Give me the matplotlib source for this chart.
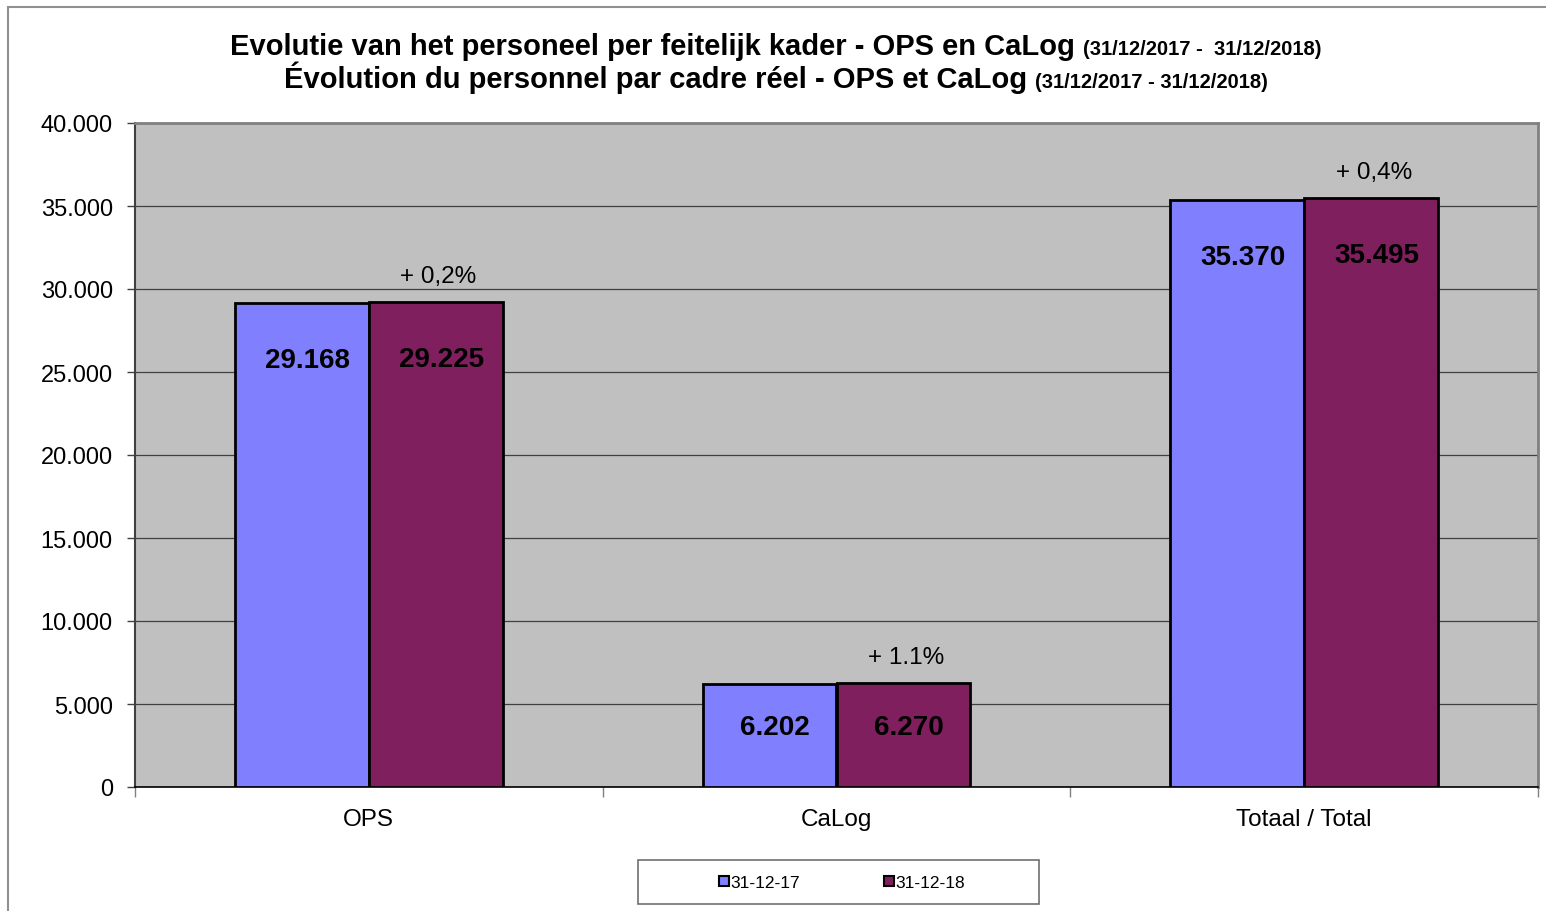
import matplotlib
matplotlib.use("Agg")
from matplotlib import pyplot as plt
from matplotlib.patches import Rectangle
from matplotlib.lines import Line2D
from matplotlib.ticker import FuncFormatter, FixedLocator
import numpy as np

plt.rcParams['font.family'] = ['Liberation Sans', 'DejaVu Sans']

# data
categories = ["OPS", "CaLog", "Totaal / Total"]
series_names = ["31-12-17", "31-12-18"]
vals_2017 = [29168, 6202, 35370]
vals_2018 = [29225, 6270, 35495]
pct_labels = ["+ 0,2%", "+ 1.1%", "+ 0,4%"]

col_2017 = "#8080FF"
col_2018 = "#801F5E"

def dotted(v):
    return f"{int(v):,}".replace(",", ".")

fig = plt.figure(figsize=(15.46, 9.12), dpi=100)
W, H = 1546, 912
ax = fig.add_axes([135 / W, 1 - 788 / H, (1538 - 135) / W, (788 - 124) / H])
ax.set_facecolor("#C0C0C0")

x = np.arange(len(categories))
bw = 0.286
b1 = ax.bar(x - bw / 2, vals_2017, bw, color=col_2017, edgecolor="black", linewidth=2, zorder=3)
b2 = ax.bar(x + bw / 2, vals_2018, bw, color=col_2018, edgecolor="black", linewidth=2, zorder=3)

ax.set_xlim(-0.5, 2.5)
ax.set_ylim(0, 40000)
ax.set_yticks(np.arange(0, 40001, 5000))
ax.yaxis.set_major_formatter(FuncFormatter(lambda v, p: dotted(v)))
ax.grid(axis="y", color="#404040", linewidth=0.9, zorder=1)
ax.set_axisbelow(True)
ax.tick_params(axis="y", labelsize=17, length=6, width=1, color="#404040", pad=10)

ax.set_xticks(x)
ax.set_xticklabels(categories, fontsize=17.5)
ax.tick_params(axis="x", length=0, pad=15)
ax.xaxis.set_minor_locator(FixedLocator([-0.5, 0.5, 1.5, 2.5]))
ax.tick_params(axis="x", which="minor", length=7, width=1, color="#808080")

for side in ["top", "right"]:
    ax.spines[side].set_color("#808080")
    ax.spines[side].set_linewidth(2)
ax.spines["left"].set_color("#404040")
ax.spines["left"].set_linewidth(1.5)
ax.spines["bottom"].set_color("black")
ax.spines["bottom"].set_linewidth(1.2)

# value labels inside bars
px_per_unit = (788 - 124) / 40000
for bars in (b1, b2):
    for r in bars:
        h = r.get_height()
        off = min(57, 0.42 * h * px_per_unit)
        ax.annotate(dotted(h), (r.get_x() + r.get_width() / 2, h),
                    xytext=(4, -off * 0.72), textcoords="offset points",
                    ha="center", va="center", fontsize=20, fontweight="bold", zorder=5)

# percentage labels above second bar
for r, lab in zip(b2, pct_labels):
    ax.annotate(lab, (r.get_x() + r.get_width() / 2, r.get_height()),
                xytext=(2, 26 * 0.72), textcoords="offset points",
                ha="center", va="center", fontsize=17.5, zorder=5)

# title, two lines with smaller date range
fig.text(1075 / W, 1 - 55 / H, "Evolutie van het personeel per feitelijk kader - OPS en CaLog",
         ha="right", va="baseline", fontsize=21, fontweight="bold")
fig.text(1083 / W, 1 - 55 / H, "(31/12/2017 -  31/12/2018)",
         ha="left", va="baseline", fontsize=14.5, fontweight="bold")
fig.text(1027 / W, 1 - 88 / H, "Évolution du personnel par cadre réel - OPS et CaLog",
         ha="right", va="baseline", fontsize=21, fontweight="bold")
fig.text(1035 / W, 1 - 88 / H, "(31/12/2017 - 31/12/2018)",
         ha="left", va="baseline", fontsize=14.5, fontweight="bold")

# outer chart border
fig.add_artist(Rectangle((8 / W, -0.05), 1.05, 1 - 8 / H + 0.05, transform=fig.transFigure,
                         fill=False, edgecolor="#909090", linewidth=1.5, clip_on=False))

# legend
fig.add_artist(Rectangle((638 / W, 1 - 905 / H), (1039 - 638) / W, (905 - 861) / H,
                         transform=fig.transFigure, fill=False, edgecolor="#707070", linewidth=1.2))
handles = [Line2D([], [], marker="s", linestyle="none", markersize=7,
                  markerfacecolor=c, markeredgecolor="black", markeredgewidth=1.5)
           for c in (col_2017, col_2018)]
fig.legend(handles, series_names, loc="center", bbox_to_anchor=(842 / W, 1 - 883 / H),
           ncol=2, frameon=False, fontsize=12.5, handlelength=0.6, handletextpad=0.1,
           columnspacing=4.8)

fig.savefig("out.png", dpi=100)
